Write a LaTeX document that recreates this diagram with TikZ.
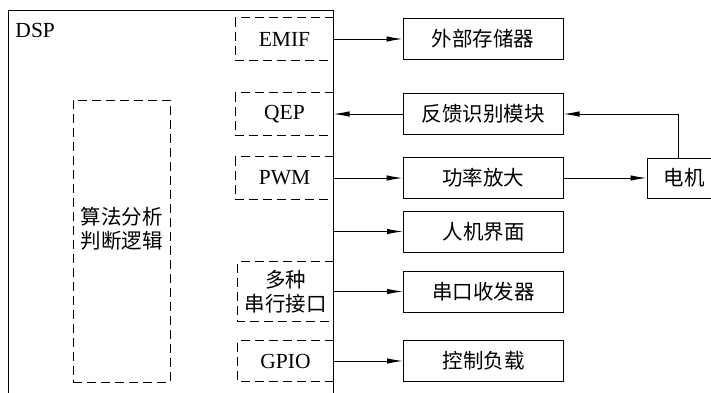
\documentclass[tikz,border=0pt]{standalone}
\usepackage{fontspec}
\setmainfont{Liberation Serif}
\newfontfamily\cjk{Noto Sans CJK SC}
\usetikzlibrary{arrows.meta}
\begin{document}
\begin{tikzpicture}[x=1pt,y=-1pt,
  line width=1pt,
  every node/.style={inner sep=0pt, font=\fontsize{21.5}{25}\selectfont},
  cjkfont/.style={font=\cjk\fontsize{20.5}{24}\selectfont},
  solidbox/.style={draw, cjkfont, minimum width=160pt, minimum height=41pt},
  dashbox/.style={minimum width=97pt, minimum height=42pt},
  dline/.style={dash pattern=on 9pt off 5pt},
  arr/.style={-{Latex[length=16pt,width=5.5pt]}}
]
\useasboundingbox (0,0) rectangle (711,392);
\clip (0,0) rectangle (711,392);
% DSP box
\node[draw, minimum width=325pt, minimum height=400pt, anchor=north west] (dsp) at (8,10) {};
\node[anchor=base west] (dsplabel) at (15,37) {DSP};
% inner dashed blocks
\node[dashbox] (emif) at (284.5,39) {EMIF};
\node[dashbox] (qep) at (284.5,114) {QEP};
\node[dashbox] (pwm) at (284.5,178) {PWM};
\node[dashbox, minimum width=95pt, minimum height=59pt, cjkfont, align=center] (ser) at (285.5,291.5) {多种\\串行接口};
\node[dashbox, minimum width=95pt, minimum height=40pt] (gpio) at (285.5,361) {GPIO};
\foreach \n in {emif,qep,pwm,ser,gpio}{
  \draw[dline] (\n.north east) -- (\n.north west) -- (\n.south west) -- (\n.south east);
}
\node[draw, dline, minimum width=97pt, minimum height=282pt] (alg) at (121.5,241) {};
\node[cjkfont, align=center, anchor=north] (algtext) at (121.5,207) {算法分析\\判断逻辑};
% outer blocks
\node[solidbox] (ext) at (483,39) {外部存储器};
\node[solidbox] (fb) at (483,114) {反馈识别模块};
\node[solidbox] (amp) at (483,178) {功率放大};
\node[solidbox] (hmi) at (483.5,231.5) {人机界面};
\node[solidbox] (sci) at (483.5,291.5) {串口收发器};
\node[solidbox] (load) at (483.5,361) {控制负载};
\node[draw, cjkfont, minimum width=74pt, minimum height=40pt] (motor) at (684,178) {电机};
% connectors
\draw[arr] (emif.east) -- (ext.west);
\draw[arr] (fb.west) -- (qep.east);
\draw[arr] (pwm.east) -- (amp.west);
\draw[arr] (amp.east) -- (motor.west);
\draw[arr] ([xshift=-6pt]motor.north) |- (fb.east);
\draw[arr] (hmi.west -| emif.east) -- (hmi.west);
\draw[arr] (ser.east) -- (sci.west);
\draw[arr] (gpio.east) -- (load.west);
\end{tikzpicture}
\end{document}
